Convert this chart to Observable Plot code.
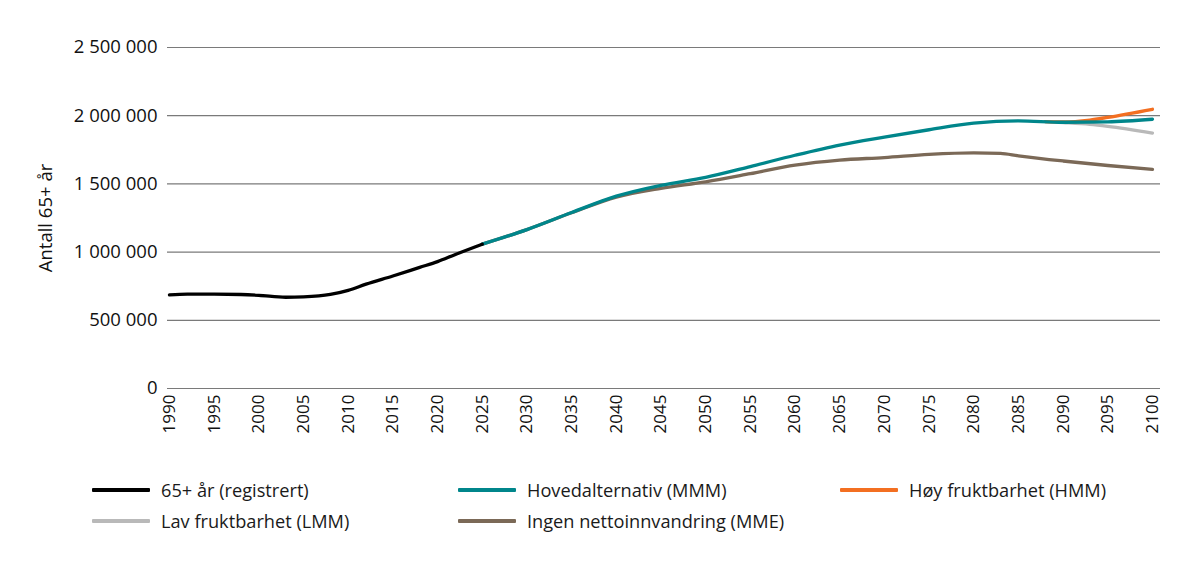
<!DOCTYPE html>
<html>
<head>
<meta charset="utf-8">
<script src="https://cdn.jsdelivr.net/npm/d3@7"></script>
<script src="https://cdn.jsdelivr.net/npm/@observablehq/plot@0.6"></script>
<style>
  body { margin: 0; background: #fff; font-family: "Open Sans", sans-serif; }
  #wrap { position: relative; width: 1198px; height: 568px; }
  #chart { position: absolute; left: 0; top: 0; }
  .leg { position: absolute; display: flex; align-items: center; font-size: 18.2px; color: #1a1a1a; white-space: nowrap; }
  .sw { width: 58px; height: 4px; margin-right: 11px; border-radius: 1px; }
</style>
</head>
<body>
<div id="wrap">
  <div id="chart"></div>
  <div id="legend"></div>
</div>
<script>
// ---- data ----
const seriesNames = ["65+ år (registrert)", "Hovedalternativ (MMM)", "Høy fruktbarhet (HMM)", "Lav fruktbarhet (LMM)", "Ingen nettoinnvandring (MME)"];
const seriesColors = ["#000000", "#00868b", "#f36f21", "#b9b9b9", "#7b6957"];

const regYears  = [1990, 1992, 1995, 1998, 2000, 2003, 2005, 2008, 2010, 2012, 2015, 2018, 2020, 2022, 2025];
const regValues = [687000, 692000, 692000, 689000, 683000, 669000, 672000, 690000, 720000, 765000, 825000, 888000, 930000, 983000, 1058000];

const mmmYears  = [2025, 2030, 2035, 2040, 2045, 2050, 2055, 2060, 2065, 2070, 2075, 2080, 2085, 2090, 2095, 2100];
const mmmValues = [1058000, 1165000, 1290000, 1410000, 1490000, 1548000, 1627000, 1710000, 1785000, 1843000, 1897000, 1945000, 1962000, 1952000, 1955000, 1974000];

const hmmYears  = [2088, 2090, 2093, 2095, 2100];
const hmmValues = [1957000, 1954000, 1968000, 1988000, 2047000];

const lmmYears  = [2088, 2090, 2093, 2095, 2100];
const lmmValues = [1957000, 1950000, 1937000, 1922000, 1873000];

const mmeYears  = [2025, 2030, 2035, 2040, 2045, 2050, 2055, 2060, 2065, 2070, 2075, 2080, 2083, 2085, 2090, 2095, 2100];
const mmeValues = [1058000, 1165000, 1288000, 1403000, 1468000, 1515000, 1575000, 1638000, 1675000, 1693000, 1716000, 1727000, 1724000, 1706000, 1668000, 1635000, 1607000];

const xTicks = d3.range(1990, 2101, 5);
const yTicks = [0, 500000, 1000000, 1500000, 2000000, 2500000];

// ---- build rows ----
function rows(years, values, name) { return years.map((y, i) => ({year: y, value: values[i], series: name})); }
const reg = rows(regYears, regValues, seriesNames[0]);
const mmm = rows(mmmYears, mmmValues, seriesNames[1]);
const hmm = rows(hmmYears, hmmValues, seriesNames[2]);
const lmm = rows(lmmYears, lmmValues, seriesNames[3]);
const mme = rows(mmeYears, mmeValues, seriesNames[4]);

const fmt = d3.formatLocale({decimal: ",", thousands: "\u00a0", grouping: [3], currency: ["", ""]}).format(",");

const lineOpts = (color) => ({x: "year", y: "value", stroke: color, strokeWidth: 3.3, curve: "monotone-x", strokeLinecap: "round", strokeLinejoin: "round"});

const plot = Plot.plot({
  width: 1198,
  height: 440,
  marginLeft: 167,
  marginRight: 38,
  marginTop: 47,
  marginBottom: 52,
  style: {fontFamily: "'Open Sans', sans-serif", fontSize: "17px", color: "#111", background: "#fff"},
  x: {domain: [1989.78, 2100.9]},
  y: {domain: [0, 2500000]},
  marks: [
    Plot.ruleY(yTicks, {stroke: "#7a7a7a", strokeWidth: 1.2}),
    Plot.axisY({ticks: yTicks, tickFormat: fmt, tickSize: 0, tickPadding: 10, fontSize: 18.5,
      label: "Antall 65+ år", labelAnchor: "center", labelArrow: "none", labelOffset: 129}),
    Plot.axisX({ticks: xTicks, tickFormat: d => String(d), tickSize: 0, tickPadding: 6, tickRotate: -90, fontSize: 17, label: null}),
    Plot.line(mme, lineOpts(seriesColors[4])),
    Plot.line(lmm, lineOpts(seriesColors[3])),
    Plot.line(hmm, lineOpts(seriesColors[2])),
    Plot.line(mmm, lineOpts(seriesColors[1])),
    Plot.line(reg, lineOpts(seriesColors[0]))
  ]
});
document.getElementById("chart").appendChild(plot);

// ---- legend ----
const legPos = [
  {i: 0, left: 92, top: 490}, {i: 1, left: 458, top: 490}, {i: 2, left: 840, top: 490},
  {i: 3, left: 92, top: 521}, {i: 4, left: 458, top: 521}
];
const leg = document.getElementById("legend");
legPos.forEach(p => {
  const d = document.createElement("div");
  d.className = "leg";
  d.style.left = p.left + "px";
  d.style.top = (p.top - 12) + "px";
  d.style.height = "24px";
  const sw = document.createElement("div");
  sw.className = "sw";
  sw.style.background = seriesColors[p.i];
  const t = document.createElement("span");
  t.textContent = seriesNames[p.i];
  d.appendChild(sw); d.appendChild(t);
  leg.appendChild(d);
});
</script>
</body>
</html>
